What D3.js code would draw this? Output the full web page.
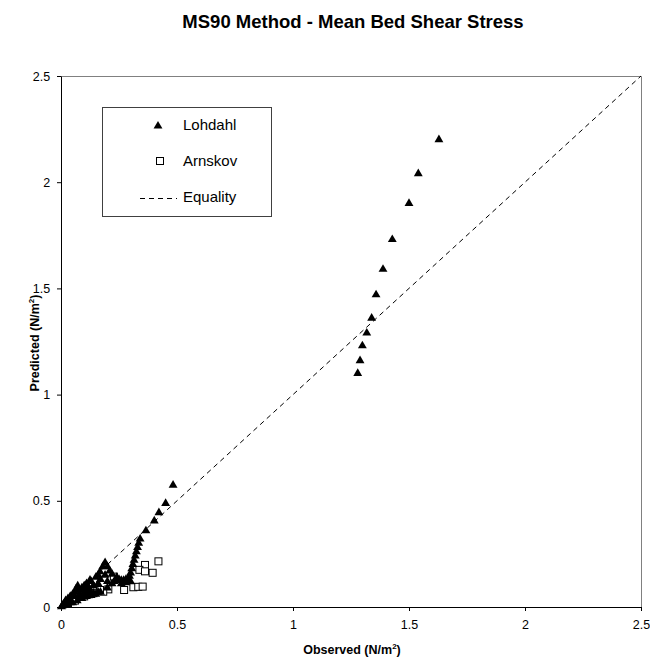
<!DOCTYPE html>
<html>
<head>
<meta charset="utf-8">
<script src="https://cdn.jsdelivr.net/npm/d3@7/dist/d3.min.js"></script>
<style>
  body { margin: 0; background: #fff; }
  svg { display: block; font-family: "Liberation Sans", Arial, sans-serif; }
</style>
</head>
<body>
<svg id="chart" width="650" height="660"></svg>
<script>
// Observed vs predicted mean bed shear stress (N/m²)
const lohdahlObserved = [
  1.279, 1.289, 1.299, 1.318, 1.339, 1.358, 1.388, 1.428, 1.500, 1.540, 1.629,
  0.483, 0.451, 0.422, 0.402, 0.366, 0.341, 0.335, 0.330, 0.325, 0.320, 0.315,
  0.310, 0.305, 0.300, 0.295, 0.290, 0.280, 0.270, 0.260, 0.250, 0.240,
  0.190, 0.180, 0.168, 0.160, 0.150, 0.125, 0.110, 0.100, 0.090, 0.072, 0.065,
  0.060, 0.050, 0.040, 0.030, 0.020, 0.015, 0.010, 0.005, 0.002,
  0.030, 0.050, 0.070, 0.090, 0.110, 0.130, 0.150, 0.170, 0.200, 0.220, 0.230,
  0.080, 0.100, 0.120, 0.140, 0.200,
  0.060, 0.080, 0.100, 0.120, 0.140, 0.160, 0.080, 0.100, 0.120, 0.140, 0.160,
  0.130, 0.170, 0.190, 0.200, 0.210, 0.220, 0.260, 0.280, 0.300, 0.040, 0.020
];
const lohdahlPredicted = [
  1.10, 1.16, 1.23, 1.29, 1.36, 1.47, 1.59, 1.73, 1.90, 2.04, 2.20,
  0.574, 0.488, 0.444, 0.405, 0.359, 0.320, 0.300, 0.280, 0.260, 0.240, 0.220,
  0.200, 0.180, 0.160, 0.145, 0.130, 0.130, 0.125, 0.125, 0.130, 0.140,
  0.209, 0.190, 0.166, 0.150, 0.140, 0.127, 0.110, 0.100, 0.090, 0.099, 0.085,
  0.070, 0.060, 0.050, 0.040, 0.030, 0.020, 0.012, 0.005, 0.001,
  0.010, 0.020, 0.030, 0.040, 0.050, 0.055, 0.060, 0.070, 0.090, 0.110, 0.120,
  0.060, 0.070, 0.080, 0.100, 0.120,
  0.050, 0.050, 0.055, 0.060, 0.065, 0.070, 0.080, 0.085, 0.090, 0.100, 0.110,
  0.120, 0.130, 0.150, 0.190, 0.170, 0.155, 0.110, 0.115, 0.120, 0.020, 0.010
];
const arnskovObserved = [
  0.420, 0.362, 0.338, 0.362, 0.395, 0.228, 0.204, 0.182, 0.168, 0.272,
  0.312, 0.333, 0.352, 0.120, 0.140, 0.100, 0.060, 0.030
];
const arnskovPredicted = [
  0.215, 0.198, 0.175, 0.168, 0.161, 0.143, 0.083, 0.072, 0.080, 0.080,
  0.093, 0.095, 0.096, 0.060, 0.065, 0.050, 0.030, 0.015
];
const axisTicks = [0, 0.5, 1, 1.5, 2, 2.5];
const equality = [0, 2.5];

const svg = d3.select("#chart");
const plotLeft = 61, plotRight = 641, plotTop = 76, plotBottom = 607;

const x = d3.scaleLinear().domain([0, 2.5]).range([plotLeft, plotRight]);
const y = d3.scaleLinear().domain([0, 2.5]).range([plotBottom, plotTop]);

// Title
svg.append("text")
  .attr("x", 353).attr("y", 28)
  .attr("text-anchor", "middle")
  .attr("font-size", 18.5).attr("font-weight", "bold")
  .text("MS90 Method - Mean Bed Shear Stress");

// Plot frame (top and right edges)
svg.append("path")
  .attr("d", `M${plotLeft},${plotTop + 0.5}H${plotRight + 0.5}V${plotBottom}`)
  .attr("fill", "none").attr("stroke", "#808080").attr("stroke-width", 1);

// Axes
const fmt = d => d3.format("~g")(d);
const xAxis = svg.append("g")
  .attr("transform", `translate(0,${plotBottom})`)
  .call(d3.axisBottom(x).tickValues(axisTicks).tickFormat(fmt).tickSize(4).tickSizeOuter(0));
const yAxis = svg.append("g")
  .attr("transform", `translate(${plotLeft},0)`)
  .call(d3.axisLeft(y).tickValues(axisTicks).tickFormat(fmt).tickSize(4).tickSizeOuter(0));
[xAxis, yAxis].forEach(g => {
  g.selectAll("text").attr("font-size", 12.5).attr("font-family", "Liberation Sans, Arial, sans-serif").attr("fill", "#000");
  g.selectAll("line, path").attr("stroke", "#000");
});
xAxis.selectAll("text").attr("dy", "1.2em");
yAxis.selectAll("text").attr("dx", "-0.3em");

// Axis titles
const xt = svg.append("text")
  .attr("x", 352).attr("y", 654)
  .attr("text-anchor", "middle")
  .attr("font-size", 12.5).attr("font-weight", "bold");
xt.append("tspan").text("Observed (N/m");
xt.append("tspan").attr("dy", -5).attr("font-size", 8).text("2");
xt.append("tspan").attr("dy", 5).text(")");

const yt = svg.append("text")
  .attr("transform", `translate(39,343) rotate(-90)`)
  .attr("text-anchor", "middle")
  .attr("font-size", 12.5).attr("font-weight", "bold");
yt.append("tspan").text("Predicted (N/m");
yt.append("tspan").attr("dy", -5).attr("font-size", 8).text("2");
yt.append("tspan").attr("dy", 5).text(")");

// Equality line
svg.append("line")
  .attr("x1", x(equality[0])).attr("y1", y(equality[0]))
  .attr("x2", x(equality[1])).attr("y2", y(equality[1]))
  .attr("stroke", "#000").attr("stroke-width", 1)
  .attr("stroke-dasharray", "5,4");

const tri = d3.symbol().type(d3.symbolTriangle).size(34);

// Arnskov (open squares)
svg.append("g").selectAll("rect")
  .data(arnskovObserved.map((v, i) => [v, arnskovPredicted[i]]))
  .join("rect")
  .attr("x", d => x(d[0]) - 3.5).attr("y", d => y(d[1]) - 3.5)
  .attr("width", 7).attr("height", 7)
  .attr("fill", "#fff").attr("stroke", "#000").attr("stroke-width", 1);

// Lohdahl (filled triangles)
svg.append("g").selectAll("path")
  .data(lohdahlObserved.map((v, i) => [v, lohdahlPredicted[i]]))
  .join("path")
  .attr("d", tri)
  .attr("transform", d => `translate(${x(d[0])},${y(d[1])})`)
  .attr("fill", "#000");

// Legend
const lg = svg.append("g");
lg.append("rect")
  .attr("x", 102.5).attr("y", 107.5).attr("width", 169).attr("height", 109)
  .attr("fill", "#fff").attr("stroke", "#404040").attr("stroke-width", 1);
lg.append("path").attr("d", tri).attr("transform", "translate(158,126)").attr("fill", "#000");
lg.append("rect").attr("x", 156.5).attr("y", 157.5).attr("width", 7).attr("height", 7)
  .attr("fill", "#fff").attr("stroke", "#000");
lg.append("line").attr("x1", 140).attr("x2", 177).attr("y1", 198.5).attr("y2", 198.5)
  .attr("stroke", "#000").attr("stroke-dasharray", "5,4");
[["Lohdahl", 125], ["Arnskov", 161], ["Equality", 197]].forEach(([t, yy]) => {
  lg.append("text").attr("x", 183).attr("y", yy).attr("dy", "0.35em")
    .attr("font-size", 15).text(t);
});
</script>
</body>
</html>
